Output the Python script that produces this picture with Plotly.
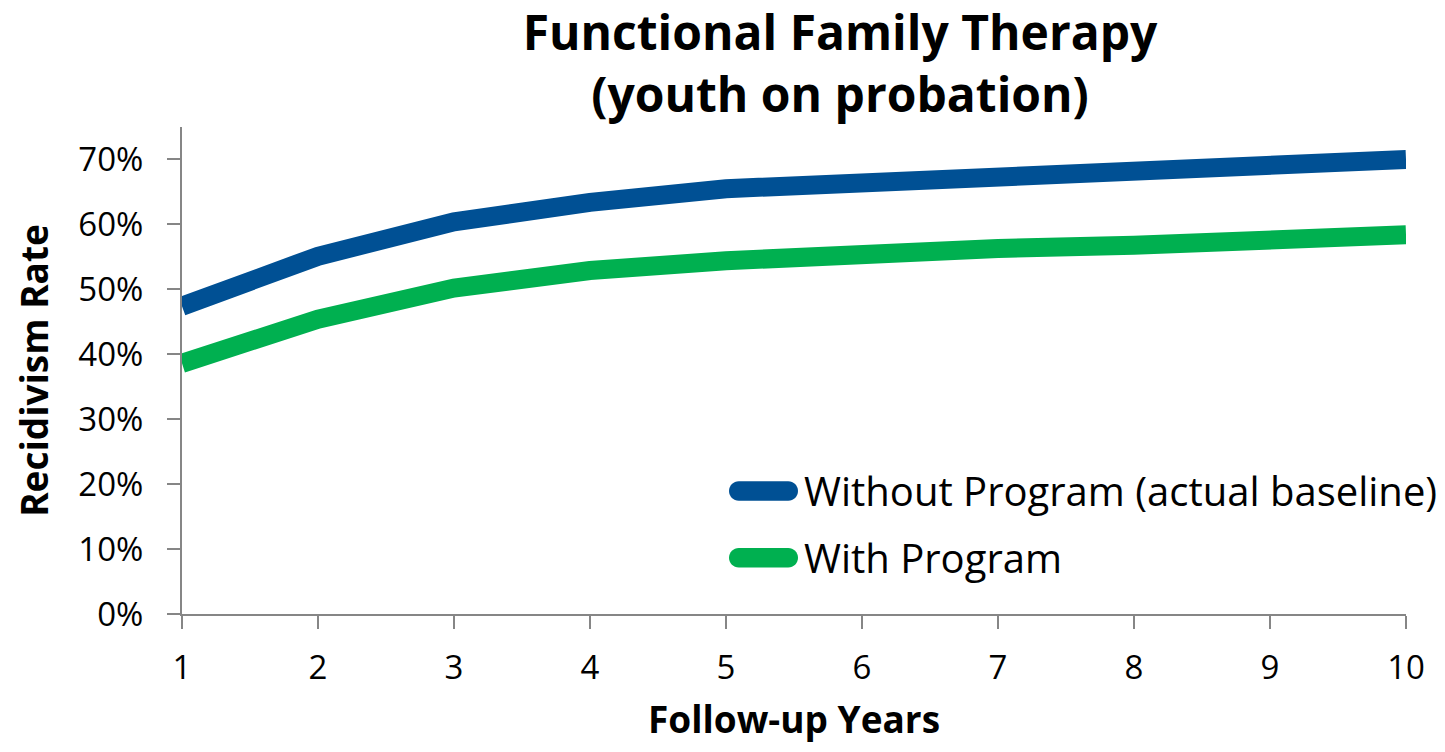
import plotly.graph_objects as go

years = [1, 2, 3, 4, 5, 6, 7, 8, 9, 10]
without_program = [0.474, 0.551, 0.604, 0.634, 0.655, 0.664, 0.677, 0.683, 0.691, 0.700]
with_program = [0.386, 0.454, 0.502, 0.529, 0.544, 0.556, 0.563, 0.568, 0.576, 0.584]
series_names = ["Without Program (actual baseline)", "With Program"]
series_colors = ["#005094", "#00B050"]
y_ticks = [0, 0.1, 0.2, 0.3, 0.4, 0.5, 0.6, 0.7]

FONT = "Open Sans"
AXIS_GRAY = "#868686"

fig = go.Figure()
for name, vals, col in zip(series_names, [without_program, with_program], series_colors):
    fig.add_trace(go.Scatter(x=years, y=vals, name=name, mode="lines",
                             line=dict(color=col, width=19), showlegend=False))

# page has an 8px body margin
OFF = 8
W, H = 1429, 736
L, R, T, B = 174, 31, 119, 129.5
pw, ph = W - L - R, H - T - B

def px_to_paper(xp, yp):
    return (xp - OFF - L) / pw, (OFF + H - B - yp) / ph

shapes = []
annotations = []
legend_rows = [491.3, 558.3]
pill = ("M -24.75,-9.75 H 24.75 C 30.1,-9.75 34.5,-5.4 34.5,0 C 34.5,5.4 30.1,9.75 24.75,9.75 "
        "H -24.75 C -30.1,9.75 -34.5,5.4 -34.5,0 C -34.5,-5.4 -30.1,-9.75 -24.75,-9.75 Z")
for name, col, row_y in zip(series_names, series_colors, legend_rows):
    ax, ay = px_to_paper(763.5, row_y)
    shapes.append(dict(type="path", xref="paper", yref="paper", xsizemode="pixel",
                       ysizemode="pixel", xanchor=ax, yanchor=ay, path=pill,
                       fillcolor=col, line=dict(width=0)))
    tx, ty = px_to_paper(802, row_y)
    annotations.append(dict(text=name, xref="paper", yref="paper", x=tx, y=ty,
                            xanchor="left", yanchor="middle", showarrow=False,
                            font=dict(family=FONT, size=40, color="#000000")))

fig.update_layout(
    width=W, height=H,
    margin=dict(l=L, r=R, t=T, b=B, pad=0, autoexpand=False),
    paper_bgcolor="white", plot_bgcolor="white",
    font=dict(family=FONT, color="#000000"),
    title=dict(text="<b>Functional Family Therapy<br>(youth on probation)</b>",
               x=(840 - OFF) / W, xanchor="center", xref="container",
               y=0.9435, yanchor="top", yref="container",
               font=dict(family=FONT, size=48, color="#000000")),
    shapes=shapes, annotations=annotations,
    xaxis=dict(range=[1, 10], tickvals=years, showgrid=False, zeroline=False,
               automargin=False,
               showline=True, linecolor=AXIS_GRAY, linewidth=2,
               ticks="outside", ticklen=13, tickwidth=2, tickcolor=AXIS_GRAY,
               tickfont=dict(family=FONT, size=33, color="#000000"),
               ticklabelstandoff=10,
               title=dict(text="<b>Follow-up Years</b>", standoff=34,
                          font=dict(family=FONT, size=37, color="#000000"))),
    yaxis=dict(range=[0, 0.75], tickvals=y_ticks, tickformat=".0%", showgrid=False,
               zeroline=False, automargin=False,
               showline=True, linecolor=AXIS_GRAY, linewidth=2,
               ticks="outside", ticklen=13, tickwidth=2, tickcolor=AXIS_GRAY,
               tickfont=dict(family=FONT, size=33, color="#000000"),
               ticklabelstandoff=17,
               title=dict(text="<b>Recidivism Rate</b>", standoff=19,
                          font=dict(family=FONT, size=37, color="#000000"))),
)

fig.write_html("out.html")
